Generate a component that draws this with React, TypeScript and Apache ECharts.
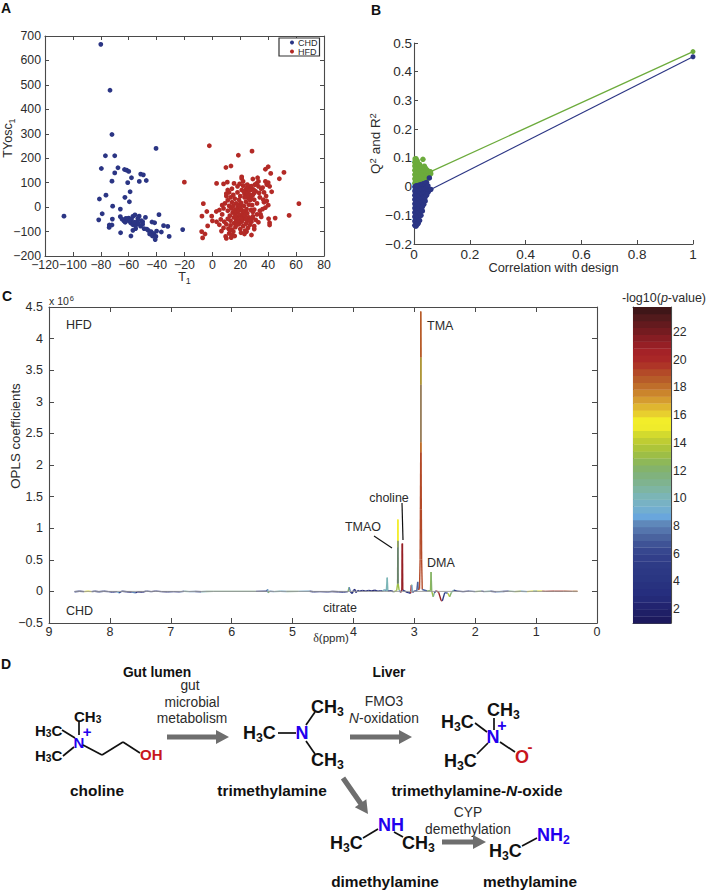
import React, { useEffect, useRef } from "react";
import * as echarts from "echarts";

const FONT = '"Liberation Sans", Arial, sans-serif';
const INK = "#2b2b2b";
const AXIS = "#4a4a4a";

// Panel A
const chdPoints = [
  [-80, 666], [-73.4, 478], [-72, 297], [-76.7, 210], [-70, 210], [-40.4, 240], [-79.6, 158], [-67.7, 161],
  [-70, 140], [-63, 154], [-61.5, 151], [-60, 146], [-72, 106], [-60.7, 100], [-58, 120], [-51.4, 135],
  [-49.5, 132], [-52.4, 105], [-47.4, 109], [-59, 63], [-76.3, 49], [-81, 33], [-62.7, 40], [-59.5, 22],
  [-71.5, 4], [-66, -8], [-79, -27], [-106.4, -37], [-81.5, -52], [-71.7, -49], [-38.3, -31], [-66, -39],
  [-64.8, -49], [-63.4, -57], [-62, -46], [-65.8, -105], [-72, -73], [-73.9, -73], [-74, -83], [-60, -45],
  [-58, -50], [-57, -38], [-55.5, -32], [-54, -60], [-52.5, -37], [-51, -55], [-50, -70], [-48, -42],
  [-58.5, -65], [-57, -72], [-55, -75], [-53, -68], [-51.5, -78], [-49, -88], [-47, -90], [-46, -95],
  [-44, -100], [-42, -108], [-40, -98], [-45, -110], [-43, -118], [-41, -133], [-40.5, -120], [-57, -95],
  [-55, -88], [-43.3, -61], [-41.4, -64], [-35, -76], [-32, -79], [-36.6, -102], [-31, -120], [-21.3, -92],
  [-58.4, -118], [-61, -52], [-59.5, -58], [-56, -62], [-53.5, -47], [-62.5, -62], [-50, -60],
];
const hfdPoints = [
  [-2.2, 251], [18.6, 212], [28.4, 229], [-20.1, 102], [9.7, 162], [13.3, 168], [40, 165], [38, 155],
  [41.8, 138], [51.3, 142], [48, 116], [42.5, 63], [62, 14], [55, -34], [45, -45], [40.3, -47.5],
  [41, -64], [41, -73], [-7.5, -37], [-6.5, 14], [-4, -18], [-0.5, -37], [2.8, -18], [3, 97],
  [8, 95], [10.7, 102], [-7.7, -100], [-5.3, -110], [-7, -126], [-3.4, -77], [0, -56], [28, -114],
  [31.7, 97], [32.4, 120], [29, 115], [21, 124], [21, 117], [15.5, 97], [3, -60], [5, -72],
  [6, -50], [6.5, -98], [8, -85], [9.5, -120], [10, -128], [12, -108], [13.5, -125], [14, -115],
  [15, -100], [10, -70], [11.5, -88], [13, -75], [14, -92], [15.5, -66], [16.5, -82], [17, -55],
  [18, -40], [19, -70], [20, -90], [21, -60], [22, -78], [22.5, -48], [23.5, -96], [24, -68],
  [25, -55], [25.5, -85], [26, -42], [27, -72], [28, -60], [29, -38], [30, -78], [31, -52],
  [32, -30], [33, -62], [34, -15], [35, -40], [36, -8], [37, 20], [38, -2], [39, 25],
  [40, 8], [38.5, 45], [37, 60], [35, 75], [33, 85], [36, 80], [39, 92], [40, 100],
  [41, 85], [38, 105], [34, 40], [32, 15], [30, 30], [31, 65], [29, 50], [27.5, 70],
  [26, 85], [25, 62], [24, 72], [23, 55], [22, 88], [21, 70], [20, 45], [19, 30],
  [18, 60], [17, 15], [16, 35], [15, 50], [14, 20], [13, 40], [12, 5], [11, 28],
  [10, 45], [9, 15], [8, -5], [7, 8], [10, 55], [11, -15], [12.5, -35], [13.5, -5],
  [14.5, -22], [15, 5], [16, -12], [16.5, -30], [17.5, -20], [18, -3], [18.5, 10], [19, -15],
  [19.5, -32], [20, 2], [20.5, 18], [21, -12], [21.5, -28], [22, -42], [22.5, 5], [23, -18],
  [23.5, -35], [24, 22], [24.5, -8], [25, -25], [25.5, 38], [26, 10], [26.5, 52], [27, 28],
  [27.5, -12], [28, 42], [28.5, 8], [29, -20], [29.5, 72], [30, 58], [30.5, 92], [24, 60],
  [25, 48], [22.5, 65], [24.5, 78], [23, 40], [26.5, 70], [28, 86], [33, 105], [33.5, 58],
  [36.5, 30], [34.5, -30], [30, -10], [28.5, -45], [26.5, -55], [24, -50], [20.5, -48], [18.5, -58],
  [17.5, -72], [15.5, -42], [13, -55], [11, -48], [8.5, -60], [7, -30], [5, -12], [12, 60],
  [18, 85], [19.5, 95], [14, 75], [11, 70], [22, 105], [25, 92], [12.5, -95], [20.5, -105],
  [24.5, -100], [16, -118], [30, -90], [23, -110],
];
const abLegend = ["CHD", "HFD"];

// Panel B
const r2Blob = [
  [0.003, 0.012], [0.003, 0.027], [0.003, 0.042], [0.003, 0.057], [0.003, 0.072], [0.003, 0.085], [0.004, 0.096],
  [0.007, 0.012], [0.007, 0.02], [0.007, 0.035], [0.007, 0.05], [0.007, 0.065], [0.007, 0.08], [0.007, 0.097],
  [0.011, 0.012], [0.011, 0.027], [0.011, 0.042], [0.011, 0.057], [0.011, 0.072], [0.011, 0.086], [0.011, 0.09],
  [0.015, 0.012], [0.015, 0.02], [0.015, 0.035], [0.015, 0.05], [0.015, 0.065], [0.015, 0.08],
  [0.02, 0.014], [0.02, 0.029], [0.02, 0.044], [0.02, 0.059], [0.02, 0.072], [0.02, 0.077],
  [0.025, 0.014], [0.025, 0.022], [0.025, 0.037], [0.025, 0.052], [0.025, 0.067],
  [0.03, 0.016], [0.03, 0.031], [0.03, 0.046], [0.03, 0.058], [0.03, 0.064], [0.032, 0.095],
  [0.035, 0.02], [0.035, 0.028], [0.035, 0.043], [0.035, 0.055], [0.037, 0.071],
  [0.04, 0.024], [0.04, 0.038], [0.04, 0.052], [0.04, 0.065],
  [0.045, 0.025], [0.045, 0.033], [0.045, 0.047], [0.045, 0.059],
  [0.05, 0.03], [0.05, 0.043], [0.05, 0.054], [0.055, 0.04], [0.055, 0.052], [0.06, 0.045],
];
const q2Blob = [
  [0.003, -0.135], [0.003, -0.12], [0.003, -0.105], [0.003, -0.09], [0.003, -0.075], [0.003, -0.06], [0.003, -0.045], [0.003, -0.03], [0.003, -0.015], [0.003, -0.001],
  [0.007, -0.138], [0.007, -0.113], [0.007, -0.098], [0.007, -0.083], [0.007, -0.068], [0.007, -0.053], [0.007, -0.038], [0.007, -0.022], [0.007, -0.008], [0.007, 0.002],
  [0.011, -0.132], [0.011, -0.113], [0.011, -0.098], [0.011, -0.083], [0.011, -0.068], [0.011, -0.053], [0.011, -0.038], [0.011, -0.023], [0.011, -0.008], [0.011, 0.003],
  [0.015, -0.128], [0.015, -0.105], [0.015, -0.09], [0.015, -0.075], [0.015, -0.06], [0.015, -0.045], [0.015, -0.03], [0.015, -0.015], [0.015, 0.004],
  [0.02, -0.118], [0.02, -0.09], [0.02, -0.075], [0.02, -0.06], [0.02, -0.045], [0.02, -0.03], [0.02, -0.015], [0.02, 0.005],
  [0.025, -0.1], [0.025, -0.082], [0.025, -0.067], [0.025, -0.052], [0.025, -0.037], [0.025, -0.022], [0.025, -0.007], [0.025, 0.007],
  [0.03, -0.085], [0.03, -0.07], [0.03, -0.055], [0.03, -0.04], [0.03, -0.025], [0.03, -0.01], [0.03, 0.008],
  [0.035, -0.062], [0.035, -0.048], [0.035, -0.035], [0.035, -0.02], [0.035, -0.005], [0.035, 0.01],
  [0.04, -0.05], [0.04, -0.036], [0.04, -0.022], [0.04, -0.008], [0.04, 0.012],
  [0.045, -0.03], [0.045, -0.016], [0.045, -0.002], [0.045, 0.014],
  [0.05, -0.02], [0.05, -0.009], [0.05, 0.002], [0.055, -0.012], [0.055, 0.03], [0.06, -0.01],
];
const r2Line = [[0.06, 0.052], [1, 0.47]];
const q2Line = [[0.06, -0.01], [1, 0.452]];

// Panel C: [ppm, coefficient, -log10 p, optional -log10 p of an overlapping trace]
const spectrum = [
  [8.58, -5000, 3], [8.5, 3000, 5], [8.42, -4000, 2], [8.36, 2000, 15], [8.3, -3000, 15], [8.25, 2000, 4], [8.18, -5000, 3],
  [8.1, 2000, 5], [8.02, -4000, 3], [7.96, -9000, 3], [7.88, -3000, 4], [7.85, -22000, 9], [7.8, 3000, 6], [7.72, -6000, 3],
  [7.64, -10000, 2], [7.58, -22000, 8], [7.54, -5000, 3], [7.46, -9000, 2], [7.4, 4000, 3], [7.32, -3000, 4], [7.25, 5000, 2],
  [7.15, -3000, 3], [7.05, -6000, 2], [6.95, -3000, 4], [6.85, -8000, 3], [6.78, 2000, 7], [6.7, -4000, 10], [6.6, -2000, 8],
  [6.5, -5000, 6], [6.42, -2000, 10], [6.3, 0, 11], [5.6, 0, 11], [5.42, 2000, 5], [5.41, 32000, 4], [5.4, -22000, 9], [5.38, 3000, 12],
  [5.3, -3000, 8], [5.2, 2000, 10], [5.1, -1000, 9], [4.9, 0, 11], [4.72, 2000, 9], [4.66, -6000, 3], [4.55, -3000, 4], [4.42, -8000, 3],
  [4.35, -2000, 5], [4.25, -6000, 2], [4.16, -9000, 3], [4.09, -3000, 4], [4.07, 65000, 12], [4.05, -6000, 8], [4.02, -32000, 4], [4.0, 12000, 3],
  [3.98, 36000, 3], [3.96, -16000, 2], [3.93, 14000, 3], [3.9, 2000, 4], [3.85, 14000, 3], [3.8, 5000, 2], [3.75, 17000, 3],
  [3.7, 7000, 3], [3.65, 18000, 2], [3.6, 4000, 3], [3.55, 12000, 5], [3.52, 2000, 6], [3.49, 28000, 10], [3.46, 6000, 8],
  [3.445, 218000, 10], [3.435, 4000, 10], [3.38, 12000, 5], [3.34, -8000, 3], [3.29, 14000, 13],
  [3.275, 120000, 13], [3.272, 700000, 13, 6], [3.27, 1136000, 15.5], [3.268, 800000, 15.5], [3.265, 120000, 13, 6], [3.25, 20000, 13], [3.24, 10000, 9],
  [3.225, -15000, 6], [3.205, 20000, 21], [3.2, 756000, 21], [3.195, 756000, 21], [3.19, 20000, 21], [3.14, -5000, 4], [3.1, -18000, 3], [3.06, -30000, 3],
  [3.05, 100000, 20], [3.04, 105000, 14], [3.03, -15000, 9], [2.99, 10000, 5], [2.96, 5000, 7], [2.945, 150000, 7], [2.935, 25000, 7],
  [2.915, 40000, 19], [2.905, 500000, 19], [2.9, 1300000, 19], [2.895, 2200000, 19], [2.895, 2360000, 18], [2.895, 3270000, 19, 11], [2.895, 3700000, 18, 13], [2.895, 4430000, 18.5],
  [2.89, 3700000, 18.5], [2.89, 3270000, 18, 13], [2.89, 2360000, 19, 11], [2.89, 2200000, 18], [2.885, 1300000, 19], [2.88, 500000, 19], [2.87, 30000, 19],
  [2.79, 6000, 7], [2.735, 10000, 12], [2.725, 306000, 12.5], [2.715, 8000, 12], [2.69, -85000, 13], [2.67, -20000, 11], [2.64, 10000, 5],
  [2.6, -15000, 20], [2.56, -145000, 21], [2.54, -150000, 20.5], [2.5, -20000, 5], [2.45, -30000, 7], [2.42, -85000, 14], [2.39, -15000, 12],
  [2.35, 20000, 10], [2.3, 5000, 5], [2.2, -3000, 4], [2.1, 5000, 3], [2.0, -4000, 7], [1.9, 5000, 12], [1.85, -3000, 5], [1.75, 2000, 10],
  [1.65, -8000, 4], [1.55, -2000, 8], [1.45, 4000, 5], [1.35, -3000, 11], [1.25, 3000, 13], [1.15, -3000, 9], [1.05, 5000, 15], [0.98, 2000, 12],
  [0.9, 5000, 15], [0.85, 1000, 19], [0.7, 2000, 19.5], [0.55, 2000, 19.5], [0.4, 1000, 19], [0.32, 1000, 18],
];
const zeroLine = [[8.58, 0], [0.32, 0]];

// Colour bar
const pTicks = [2, 4, 6, 8, 10, 12, 14, 16, 18, 20, 22];
const pRange = [1, 23.8];
const bandColors = [
  "#1d1a5e", "#1f1f66", "#222470", "#242a78", "#262e7e", "#28327f", "#2a3682", "#2c3884", "#2e3b86", "#323f8a",
  "#37478f", "#3f5396", "#4a639f", "#5575ad", "#5f88ba", "#69a6dc", "#72aed0", "#78b2c4", "#7bb5b6", "#7eb5a2",
  "#7fb38f", "#80b27d", "#84b36b", "#8eb858", "#9dbe46", "#adc53a", "#bfcd33", "#d3da2e", "#efeb2b", "#f2ed2a",
  "#e8cf2e", "#dfb630", "#d59c30", "#cb852c", "#bf6e2a", "#b75c29", "#b34a28", "#ae3527", "#a92727", "#a42227",
  "#961f25", "#861d23", "#741b20", "#641a1e", "#521a1c", "#3f1618",
];
const bandStep = (pRange[1] - pRange[0]) / bandColors.length;
const bandData = bandColors.map((_, i) => [pRange[0] + i * bandStep, pRange[0] + (i + 1) * bandStep]);
const pColor = (p: number) =>
  bandColors[Math.max(0, Math.min(bandColors.length - 1, Math.floor((p - pRange[0]) / bandStep)))];
const mixColor = (a: string, b: string) => {
  const ch = (c: string, i: number) => parseInt(c.slice(1 + 2 * i, 3 + 2 * i), 16);
  return `rgb(${[0, 1, 2].map((i) => Math.round((ch(a, i) + ch(b, i)) / 2)).join(",")})`;
};

const minus = (v: number | string) => String(v).replace("-", "\u2212");

const boxAxis = (extra: any) => ({
  type: "value",
  nameMoveOverlap: false,
  axisLine: { show: true, onZero: false, lineStyle: { color: AXIS, width: 1.1 } },
  axisTick: { show: true, inside: true, length: 4, lineStyle: { color: AXIS, width: 1 } },
  splitLine: { show: false },
  axisLabel: { color: INK, fontFamily: FONT, fontSize: 12, margin: 4, formatter: minus },
  ...extra,
});
const mirror = (extra: any) => boxAxis({ axisLabel: { show: false }, ...extra });

const txt = (x: number, y: number, text: string, fontSize: number, extra: any = {}, rotation = 0) => ({
  type: "text",
  x,
  y,
  rotation,
  silent: true,
  style: {
    text,
    fontSize,
    fontFamily: FONT,
    fill: INK,
    align: "left",
    verticalAlign: "middle",
    ...extra,
  },
});

const chem = (x: number, y: number, text: string, fs: number, extra: any = {}) =>
  txt(x, y, text, fs, {
    rich: {
      k: { fontSize: fs, fontWeight: "bold", fill: "#111", fontFamily: FONT },
      s: { fontSize: fs * 0.68, fontWeight: "bold", fill: "#111", fontFamily: FONT, padding: [fs * 0.5, 0, 0, 0] },
      b: { fontSize: fs, fontWeight: "bold", fill: "#2200ee", fontFamily: FONT },
      t: { fontSize: fs * 0.68, fontWeight: "bold", fill: "#2200ee", fontFamily: FONT, padding: [fs * 0.5, 0, 0, 0] },
      r: { fontSize: fs, fontWeight: "bold", fill: "#c8161d", fontFamily: FONT },
    },
    ...extra,
  });

const bond = (x1: number, y1: number, x2: number, y2: number, lineWidth = 1.7) => ({
  type: "line",
  silent: true,
  shape: { x1, y1, x2, y2 },
  style: { stroke: "#111", lineWidth },
});

const arrow = (x1: number, y1: number, x2: number, y2: number) => {
  const L = Math.hypot(x2 - x1, y2 - y1);
  const ux = (x2 - x1) / L;
  const uy = (y2 - y1) / L;
  const nx = -uy;
  const ny = ux;
  const head = 13;
  const sw = 2.6;
  const hw = 7;
  const bx = x2 - ux * head;
  const by = y2 - uy * head;
  return {
    type: "polygon",
    silent: true,
    shape: {
      points: [
        [x1 + nx * sw, y1 + ny * sw],
        [bx + nx * sw, by + ny * sw],
        [bx + nx * hw, by + ny * hw],
        [x2, y2],
        [bx - nx * hw, by - ny * hw],
        [bx - nx * sw, by - ny * sw],
        [x1 - nx * sw, y1 - ny * sw],
      ],
    },
    style: { fill: "#6e6e6e" },
  };
};

const center = { align: "center" };
const boldStyle = { fontWeight: "bold", fill: "#111" };

const subRich = {
  a: { fontSize: 12.5, fontFamily: FONT, fill: INK, color: INK },
  s: { fontSize: 9, fontFamily: FONT, fill: INK, color: INK, padding: [7, 0, 0, 0] },
};

const graphics: any[] = [
  txt(1, 8, "A", 14, boldStyle),
  txt(371, 10, "B", 14, boldStyle),
  txt(2, 296, "C", 14, boldStyle),
  txt(1, 664, "D", 14, boldStyle),
  // Panel A y label
  txt(8, 138, "{a|TYosc}{s|1}", 12.5, { ...center, rich: subRich }, Math.PI / 2),
  // Panel C annotations
  txt(49, 301, "x 10{p|6}", 10.5, { rich: { p: { fontSize: 7.5, fontFamily: FONT, fill: INK, padding: [0, 0, 6, 1] } } }),
  txt(15, 436, "OPLS coefficients", 13.3, center, Math.PI / 2),
  txt(66, 325, "HFD", 12.5),
  txt(66, 611, "CHD", 12.5),
  txt(427, 326, "TMA", 12.5),
  txt(427, 563, "DMA", 12.5),
  txt(340, 608, "citrate", 12.5, center),
  txt(389, 498, "choline", 12.5, center),
  txt(363, 527, "TMAO", 12.5, center),
  bond(402, 503, 403, 540, 1.2),
  bond(374, 536, 392, 548, 1.2),
  txt(331, 638, "{d|\u03b4}(ppm)", 11.5, {
    ...center,
    rich: { d: { fontFamily: '"Liberation Serif", serif', fontSize: 12, fill: INK } },
  }),
  txt(664, 298, "-log10({i|p}-value)", 12.5, {
    ...center,
    rich: { i: { fontStyle: "italic", fontSize: 12.5, fontFamily: FONT, fill: INK } },
  }),
  // Panel D
  txt(157, 672, "Gut lumen", 13.8, { ...center, ...boldStyle }),
  txt(389, 672, "Liver", 13.8, { ...center, ...boldStyle }),
  txt(190, 685, "gut", 13.8, center),
  txt(192, 702, "microbial", 13.8, center),
  txt(192, 718, "metabolism", 13.8, center),
  arrow(167, 737, 229, 737),
  txt(384, 701, "FMO3", 13.8, center),
  txt(384, 718, "{i|N}-oxidation", 13.8, {
    ...center,
    rich: { i: { fontStyle: "italic", fontSize: 13.8, fontFamily: FONT, fill: INK } },
  }),
  arrow(350, 737, 412, 737),
  arrow(343, 778, 368, 814),
  txt(468, 812, "CYP", 13.8, center),
  txt(468, 829, "demethylation", 13.8, center),
  arrow(442, 842, 486, 842),
  // choline
  chem(35, 730, "{k|H}{s|3}{k|C}", 15),
  chem(35, 755, "{k|H}{s|3}{k|C}", 15),
  chem(74, 716, "{k|CH}{s|3}", 15),
  chem(79, 742, "{b|N}", 15, center),
  chem(87, 731, "{b|+}", 15, center),
  chem(140, 754, "{r|OH}", 15),
  bond(62, 730, 75, 738),
  bond(63, 756, 74, 747),
  bond(79, 722, 79, 735),
  bond(83, 745, 102, 755),
  bond(102, 755, 123, 742),
  bond(123, 742, 140, 753),
  txt(97, 790, "choline", 15.4, { ...center, ...boldStyle }),
  // trimethylamine
  chem(243, 733, "{k|H}{s|3}{k|C}", 18),
  chem(302, 733, "{b|N}", 18, center),
  chem(311, 707, "{k|CH}{s|3}", 18),
  chem(311, 760, "{k|CH}{s|3}", 18),
  bond(278, 733, 296, 733),
  bond(306, 725, 315, 712),
  bond(306, 741, 315, 754),
  txt(272, 790, "trimethylamine", 15.4, { ...center, ...boldStyle }),
  // TMAO
  chem(441, 722, "{k|H}{s|3}{k|C}", 18),
  chem(487, 710, "{k|CH}{s|3}", 18),
  chem(493, 737, "{b|N}", 18, center),
  chem(502, 725, "{b|+}", 16, center),
  chem(444, 761, "{k|H}{s|3}{k|C}", 18),
  chem(522, 757, "{r|O}", 18, center),
  chem(530, 746, "{r|-}", 15, center),
  bond(475, 723, 487, 732),
  bond(477, 754, 488, 743),
  bond(494, 718, 494, 730),
  bond(500, 742, 515, 752),
  txt(477, 790, "trimethylamine-{i|N}-oxide", 15.4, {
    ...center,
    ...boldStyle,
    rich: {
      i: { fontStyle: "italic", fontWeight: "bold", fontSize: 15.4, fontFamily: FONT, fill: "#111" },
    },
  }),
  // dimethylamine
  chem(330, 843, "{k|H}{s|3}{k|C}", 18),
  chem(378, 825, "{b|NH}", 18),
  chem(402, 843, "{k|CH}{s|3}", 18),
  bond(363, 838, 378, 829),
  bond(394, 832, 403, 837),
  txt(385, 881, "dimethylamine", 15.4, { ...center, ...boldStyle }),
  // methylamine
  chem(489, 851, "{k|H}{s|3}{k|C}", 18),
  chem(537, 835, "{b|NH}{t|2}", 18),
  bond(522, 846, 537, 838),
  txt(530, 881, "methylamine", 15.4, { ...center, ...boldStyle }),
];

const dotSeries = (name: string, data: number[][], color: string, xi: number, yi: number, size: number) => ({
  name,
  type: "scatter",
  xAxisIndex: xi,
  yAxisIndex: yi,
  data,
  symbolSize: size,
  itemStyle: { color, opacity: 1 },
});

const lineSeries = (data: number[][], color: string, xi: number, yi: number, symbolSize = 5, width = 1.2) => ({
  type: "line",
  xAxisIndex: xi,
  yAxisIndex: yi,
  data,
  symbol: "circle",
  symbolSize,
  showSymbol: true,
  itemStyle: { color },
  lineStyle: { color, width },
});

const gridBase = { outerBoundsMode: "none", containLabel: false };

const option: any = {
  animation: false,
  backgroundColor: "#fff",
  textStyle: { fontFamily: FONT, color: INK },
  grid: [
    { ...gridBase, left: 45, top: 36, width: 279, height: 220 },
    { ...gridBase, left: 414, top: 43, width: 279, height: 201 },
    { ...gridBase, left: 49, top: 307, width: 548, height: 316 },
    { ...gridBase, left: 633, top: 307, width: 38, height: 316 },
  ],
  xAxis: [
    boxAxis({
      gridIndex: 0, min: -120, max: 80, interval: 20, name: "{a|T}{s|1}", nameLocation: "middle", nameGap: 13,
      nameTextStyle: { rich: subRich },
      axisLabel: { color: INK, fontFamily: FONT, fontSize: 12.3, margin: 3, formatter: minus },
    }),
    mirror({ gridIndex: 0, min: -120, max: 80, interval: 20, position: "top" }),
    boxAxis({
      gridIndex: 1, min: 0, max: 1, interval: 0.2, name: "Correlation with design", nameLocation: "middle", nameGap: 17,
      nameTextStyle: { fontSize: 12.8, fontFamily: FONT, color: INK },
      axisLabel: { color: INK, fontFamily: FONT, fontSize: 13.5, margin: 3, formatter: minus },
    }),
    boxAxis({
      gridIndex: 2, min: 0, max: 9, interval: 1, inverse: true,
      axisTick: { show: true, inside: true, length: 5, lineStyle: { color: AXIS, width: 1 } },
      axisLabel: { color: INK, fontFamily: FONT, fontSize: 12.5, margin: 2, formatter: minus },
    }),
    mirror({
      gridIndex: 2, min: 0, max: 9, interval: 1, inverse: true, position: "top",
      axisTick: { show: true, inside: true, length: 5, lineStyle: { color: AXIS, width: 1 } },
    }),
    mirror({ gridIndex: 3, min: 0, max: 1, axisTick: { show: false } }),
    mirror({ gridIndex: 3, min: 0, max: 1, position: "top", axisTick: { show: false } }),
  ],
  yAxis: [
    boxAxis({
      gridIndex: 0, min: -200, max: 700, interval: 100,
      axisLabel: { color: INK, fontFamily: FONT, fontSize: 12.3, margin: 4, formatter: minus },
    }),
    mirror({ gridIndex: 0, min: -200, max: 700, interval: 100, position: "right" }),
    boxAxis({
      gridIndex: 1, min: -0.2, max: 0.5, interval: 0.1, name: "{a|Q}{p|2}{a| and R}{p|2}", nameLocation: "middle", nameGap: 30,
      nameTextStyle: {
        rich: {
          a: { fontSize: 13.5, fontFamily: FONT, color: INK },
          p: { fontSize: 9.5, fontFamily: FONT, color: INK, padding: [0, 0, 7, 0] },
        },
      },
      axisLabel: { color: INK, fontFamily: FONT, fontSize: 13.5, margin: 2, formatter: (v: number) => minus(v) },
    }),
    boxAxis({
      gridIndex: 2, min: -500000, max: 4500000, interval: 500000,
      axisTick: { show: true, inside: true, length: 5, lineStyle: { color: AXIS, width: 1 } },
      axisLabel: { color: INK, fontFamily: FONT, fontSize: 12.5, margin: 6, formatter: (v: number) => minus(v / 1e6) },
    }),
    mirror({
      gridIndex: 2, min: -500000, max: 4500000, interval: 500000, position: "right",
      axisTick: { show: true, inside: true, length: 5, lineStyle: { color: AXIS, width: 1 } },
    }),
    boxAxis({
      gridIndex: 3, min: pRange[0], max: pRange[1], position: "right",
      axisTick: { show: true, inside: true, length: 3, customValues: pTicks, lineStyle: { color: AXIS } },
      axisLabel: { show: true, color: INK, fontFamily: FONT, fontSize: 12.3, margin: 2, customValues: pTicks },
    }),
    mirror({
      gridIndex: 3, min: pRange[0], max: pRange[1], position: "left",
      axisTick: { show: true, inside: true, length: 3, customValues: pTicks, lineStyle: { color: AXIS } },
    }),
  ],
  legend: {
    data: abLegend,
    orient: "vertical",
    left: 279,
    top: 38,
    padding: [0, 2, 0, 11],
    itemGap: 0,
    itemWidth: 4,
    itemHeight: 4,
    icon: "circle",
    borderColor: "#333",
    borderWidth: 1.2,
    backgroundColor: "#fff",
    textStyle: { fontFamily: FONT, fontSize: 9, lineHeight: 8, height: 8, color: INK, padding: [0, 0, 0, -1] },
  },
  series: [
    dotSeries("CHD", chdPoints, "#2b3584", 0, 0, 4.8),
    dotSeries("HFD", hfdPoints, "#b32a26", 0, 0, 4.8),
    dotSeries("R2 blob", r2Blob, "#6cab3c", 2, 2, 5.5),
    dotSeries("Q2 blob", q2Blob, "#2b3584", 2, 2, 5.5),
    lineSeries(r2Line, "#6cab3c", 2, 2, 5),
    lineSeries(q2Line, "#2b3584", 2, 2, 5),
    { ...lineSeries(zeroLine, "#9a9a9a", 3, 3, 0, 0.9), symbol: "none" },
    {
      type: "custom",
      xAxisIndex: 3,
      yAxisIndex: 3,
      data: spectrum,
      encode: { x: 0, y: 1 },
      renderItem: (params: any, api: any) => {
        const i = params.dataIndex;
        if (i === 0) return null;
        const cur = spectrum[i];
        const prev = spectrum[i - 1];
        const a = api.coord([prev[0], prev[1]]);
        const b = api.coord([cur[0], cur[1]]);
        const stroke = cur.length > 3 ? mixColor(pColor(cur[2]), pColor(cur[3])) : pColor(cur[2]);
        return {
          type: "line",
          shape: { x1: a[0], y1: a[1], x2: b[0], y2: b[1] },
          style: { stroke, lineWidth: 1.4 },
        };
      },
    },
    {
      type: "custom",
      xAxisIndex: 5,
      yAxisIndex: 5,
      data: bandData,
      encode: { y: [0, 1] },
      renderItem: (params: any, api: any) => {
        const lo = api.coord([0, api.value(0)]);
        const hi = api.coord([1, api.value(1)]);
        return {
          type: "rect",
          shape: { x: lo[0], y: hi[1], width: hi[0] - lo[0], height: lo[1] - hi[1] + 0.4 },
          style: { fill: bandColors[params.dataIndex] },
        };
      },
    },
  ],
  graphic: { elements: graphics },
};

export default function App() {
  const ref = useRef<HTMLDivElement>(null);
  useEffect(() => {
    const chart = echarts.init(ref.current!, null, { renderer: "svg" });
    chart.setOption(option);
    return () => chart.dispose();
  }, []);
  return <div ref={ref} style={{ position: "absolute", left: 0, top: 0, width: 708, height: 891 }} />;
}
